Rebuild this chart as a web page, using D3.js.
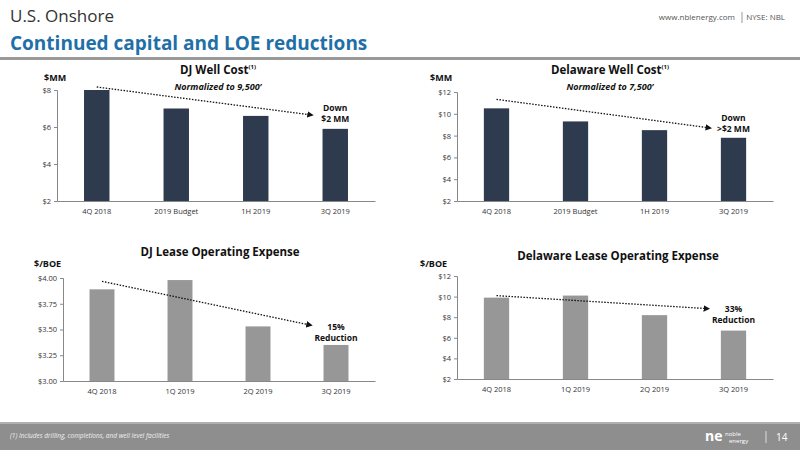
<!DOCTYPE html>
<html>
<head>
<meta charset="utf-8">
<script src="https://cdn.jsdelivr.net/npm/d3@7"></script>
<style>
  body { margin: 0; background: #fff; font-family: Calibri, Carlito, "Open Sans", sans-serif; }
  svg text { font-family: "Open Sans", sans-serif; }
</style>
</head>
<body>
<svg id="page" width="800" height="450"></svg>
<script>
const wellCats = ['4Q 2018', '2019 Budget', '1H 2019', '3Q 2019'];
const loeCats = ['4Q 2018', '1Q 2019', '2Q 2019', '3Q 2019'];
const djWell = [8.0, 7.0, 6.6, 5.9];
const delWell = [10.5, 9.3, 8.5, 7.8];
const djLoe = [3.89, 3.98, 3.53, 3.35];
const delLoe = [9.9, 10.1, 8.2, 6.7];
const djWellTicks = [2, 4, 6, 8];
const delWellTicks = [2, 4, 6, 8, 10, 12];
const djLoeTicks = [3.0, 3.25, 3.5, 3.75, 4.0];
const delLoeTicks = [2, 4, 6, 8, 10, 12];

const svg = d3.select('#page');

// header
svg.append('text').attr('x', 10).attr('y', 22).attr('font-size', 17).attr('fill', '#333').text('U.S. Onshore');
svg.append('text').attr('x', 10).attr('y', 50).attr('font-size', 19).attr('font-weight', 'bold').attr('fill', '#1f6fa8').text('Continued capital and LOE reductions');
svg.append('text').attr('x', 735).attr('y', 20).attr('font-size', 8).attr('fill', '#555').attr('text-anchor', 'end').text('www.nblenergy.com');
svg.append('line').attr('x1', 742).attr('x2', 742).attr('y1', 12).attr('y2', 23).attr('stroke', '#999');
svg.append('text').attr('x', 785).attr('y', 20).attr('font-size', 8).attr('fill', '#555').attr('text-anchor', 'end').text('NYSE: NBL');
svg.append('rect').attr('x', 0).attr('y', 57).attr('width', 800).attr('height', 3).attr('fill', '#999');

// footer
svg.append('rect').attr('x', 0).attr('y', 422).attr('width', 800).attr('height', 28).attr('fill', '#8e8e8e');
svg.append('rect').attr('x', 0).attr('y', 422).attr('width', 800).attr('height', 2).attr('fill', '#b0b0b0');
svg.append('text').attr('x', 10).attr('y', 438).attr('font-size', 6.5).attr('font-style', 'italic').attr('fill', '#eee').text('(1) Includes drilling, completions, and well level facilities');
svg.append('text').attr('x', 705).attr('y', 441).attr('font-size', 14).attr('fill', '#fff').attr('font-weight', 'bold').text('ne');
svg.append('text').attr('x', 725).attr('y', 436).attr('font-size', 6).attr('fill', '#fff').text('noble');
svg.append('text').attr('x', 729).attr('y', 443).attr('font-size', 6).attr('fill', '#fff').text('energy');
svg.append('line').attr('x1', 766).attr('x2', 766).attr('y1', 431).attr('y2', 443).attr('stroke', '#ddd');
svg.append('text').attr('x', 776).attr('y', 441).attr('font-size', 10).attr('fill', '#fff').text('14');

svg.append('defs').append('marker').attr('id', 'arr').attr('viewBox', '0 0 10 10')
  .attr('refX', 5).attr('refY', 5).attr('markerWidth', 5).attr('markerHeight', 5).attr('orient', 'auto')
  .append('path').attr('d', 'M0,0L10,5L0,10z').attr('fill', '#111');

const chart = opt => {
  const g = svg.append('g');
  const x = d3.scaleBand().domain(opt.cats).range([opt.x0, opt.x1]).paddingInner(0.68).paddingOuter(0.34);
  const y = d3.scaleLinear().domain(d3.extent(opt.ticks)).range([opt.y1, opt.y0]);

  g.append('g').attr('transform', `translate(0,${opt.y1})`)
    .call(d3.axisBottom(x).tickSize(0).tickPadding(8))
    .call(a => a.select('.domain').attr('stroke', '#888'))
    .selectAll('text').attr('font-size', 7.5).attr('fill', '#333');
  g.append('g').attr('transform', `translate(${opt.x0},0)`)
    .call(d3.axisLeft(y).tickValues(opt.ticks).tickSize(3).tickFormat(opt.fmt))
    .call(a => a.selectAll('path,line').attr('stroke', '#888'))
    .selectAll('text').attr('font-size', 7.5).attr('fill', '#333');

  g.selectAll('.bar').data(opt.values).join('rect')
    .attr('x', (d, i) => x(opt.cats[i])).attr('width', x.bandwidth())
    .attr('y', d => y(d)).attr('height', d => opt.y1 - y(d)).attr('fill', opt.color);

  g.append('text').attr('x', opt.titleX).attr('y', opt.titleY).attr('text-anchor', 'middle')
    .attr('font-size', 11.5).attr('font-weight', 'bold').attr('fill', '#111').text(opt.title)
    .call(t => { if (opt.sup) t.append('tspan').attr('font-size', 6).attr('dy', -5).text('(1)'); });
  if (opt.sub) g.append('text').attr('x', opt.titleX).attr('y', opt.titleY + 16).attr('text-anchor', 'middle')
    .attr('font-size', 9).attr('font-style', 'italic').attr('font-weight', 'bold').attr('fill', '#111').text(opt.sub);
  g.append('text').attr('x', opt.unitX).attr('y', opt.unitY).attr('font-size', 9).attr('font-weight', 'bold').attr('fill', '#111').text(opt.unit);

  const last = opt.cats.length - 1;
  const xs = x(opt.cats[0]) + x.bandwidth() / 2, ys = y(opt.values[0]) - opt.arrOff[0];
  const xe = x(opt.cats[last]) - opt.arrOff[2], ye = y(opt.values[last]) - opt.arrOff[1];
  g.append('line').attr('x1', xs).attr('y1', ys).attr('x2', xe).attr('y2', ye)
    .attr('stroke', '#111').attr('stroke-width', 1.3).attr('stroke-dasharray', '1.5,1.5').attr('marker-end', 'url(#arr)');
  opt.note.forEach((t, i) => g.append('text').attr('x', x(opt.cats[last]) + x.bandwidth() / 2)
    .attr('y', opt.noteY + i * 11).attr('text-anchor', 'middle').attr('font-size', 8.5).attr('font-weight', 'bold').attr('fill', '#111').text(t));
};

chart({ cats: wellCats, values: djWell, ticks: djWellTicks, fmt: d => '$' + d, x0: 57, x1: 375, y0: 90, y1: 201,
  color: '#2e3a4e', title: 'DJ Well Cost', sup: true, sub: 'Normalized to 9,500’', titleX: 218, titleY: 74,
  unit: '$MM', unitX: 44, unitY: 81, arrOff: [3, 14, 12], note: ['Down', '$2 MM'], noteY: 111 });
chart({ cats: wellCats, values: delWell, ticks: delWellTicks, fmt: d => '$' + d, x0: 457, x1: 773, y0: 92, y1: 201,
  color: '#2e3a4e', title: 'Delaware Well Cost', sup: true, sub: 'Normalized to 7,500’', titleX: 610, titleY: 74,
  unit: '$MM', unitX: 430, unitY: 81, arrOff: [9, 10, 12], note: ['Down', '>$2 MM'], noteY: 121 });
chart({ cats: loeCats, values: djLoe, ticks: djLoeTicks, fmt: d3.format('$.2f'), x0: 63, x1: 375, y0: 278, y1: 381,
  color: '#979797', title: 'DJ Lease Operating Expense', titleX: 220, titleY: 256,
  unit: '$/BOE', unitX: 34, unitY: 267, arrOff: [8, 20, 14], note: ['15%', 'Reduction'], noteY: 330 });
chart({ cats: loeCats, values: delLoe, ticks: delLoeTicks, fmt: d => '$' + d, x0: 457, x1: 773, y0: 276, y1: 379,
  color: '#979797', title: 'Delaware Lease Operating Expense', titleX: 618, titleY: 260,
  unit: '$/BOE', unitX: 420, unitY: 267, arrOff: [2, 22, 14], note: ['33%', 'Reduction'], noteY: 312 });
</script>
</body>
</html>
